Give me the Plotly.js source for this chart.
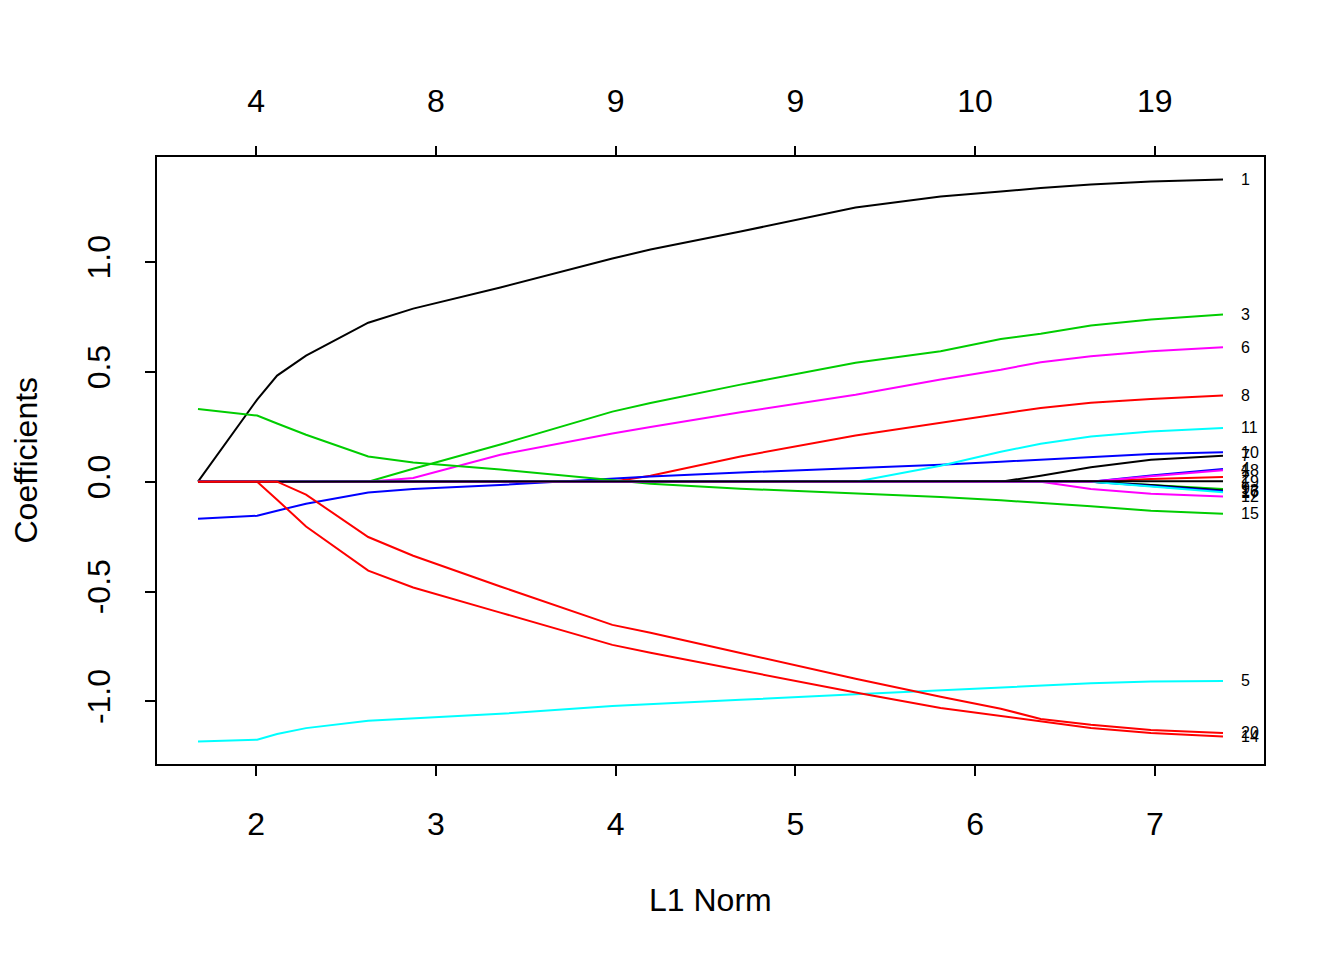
<!DOCTYPE html>
<html>
<head>
<meta charset="utf-8">
<script src="https://cdn.plot.ly/plotly-3.0.1.min.js"></script>
<style>
html,body{margin:0;padding:0;background:#fff;}
#chart{width:1344px;height:960px;}
</style>
</head>
<body>
<div id="chart"></div>
<script>
// L1 norm of the coefficient vector at each step of the path
const l1Norm = [1.677, 2.006, 2.117, 2.278, 2.624, 2.874, 3.359, 3.982, 4.194, 4.695, 5.335, 5.808, 6.143, 6.365, 6.644, 6.978, 7.379];

// coefficient paths, one array per variable (V1..V20)
const v1  = [0, 0.374, 0.483, 0.574, 0.724, 0.788, 0.884, 1.016, 1.057, 1.139, 1.248, 1.298, 1.321, 1.337, 1.353, 1.367, 1.376];
const v2  = [0, 0, 0, 0, 0, 0, 0, 0, 0, 0, 0, 0, 0, 0, 0, 0.012, 0.021];
const v3  = [0, 0, 0, 0, 0, 0.059, 0.169, 0.319, 0.358, 0.442, 0.542, 0.594, 0.650, 0.674, 0.711, 0.738, 0.761];
const v4  = [0, 0, 0, 0, 0, 0, 0, 0, 0, 0, 0, 0, 0, 0, 0, 0.028, 0.058];
const v5  = [-1.183, -1.175, -1.149, -1.122, -1.089, -1.077, -1.057, -1.021, -1.012, -0.993, -0.968, -0.950, -0.937, -0.929, -0.918, -0.910, -0.907];
const v6  = [0, 0, 0, 0, 0, 0.017, 0.123, 0.219, 0.249, 0.316, 0.396, 0.465, 0.510, 0.544, 0.571, 0.594, 0.612];
const v7  = [0, 0, 0, 0, 0, 0, 0, 0, 0, 0, 0, 0, 0, 0.027, 0.066, 0.100, 0.118];
const v8  = [0, 0, 0, 0, 0, 0, 0, 0, 0.027, 0.115, 0.210, 0.267, 0.308, 0.336, 0.359, 0.377, 0.393];
const v9  = [0, 0, 0, 0, 0, 0, 0, 0, 0, 0, 0, 0, 0, 0, 0, -0.015, -0.033];
const v10 = [-0.169, -0.155, -0.132, -0.100, -0.049, -0.033, -0.015, 0.015, 0.024, 0.042, 0.062, 0.077, 0.091, 0.100, 0.112, 0.126, 0.134];
const v11 = [0, 0, 0, 0, 0, 0, 0, 0, 0, 0, 0, 0.073, 0.136, 0.173, 0.206, 0.229, 0.245];
const v12 = [0, 0, 0, 0, 0, 0, 0, 0, 0, 0, 0, 0, 0, 0, -0.033, -0.055, -0.067];
const v13 = [0, 0, 0, 0, 0, 0, 0, 0, 0, 0, 0, 0, 0, 0, 0, -0.015, -0.040];
const v14 = [0, 0, -0.082, -0.204, -0.405, -0.482, -0.596, -0.743, -0.779, -0.859, -0.960, -1.030, -1.066, -1.093, -1.121, -1.144, -1.160];
const v15 = [0.331, 0.301, 0.265, 0.214, 0.115, 0.087, 0.055, 0.008, -0.009, -0.032, -0.052, -0.070, -0.085, -0.096, -0.112, -0.132, -0.146];
const v16 = [0, 0, 0, 0, 0, 0, 0, 0, 0, 0, 0, 0, 0, 0, 0, -0.020, -0.044];
const v17 = [0, 0, 0, 0, 0, 0, 0, 0, 0, 0, 0, 0, 0, 0, 0, -0.022, -0.048];
const v18 = [0, 0, 0, 0, 0, 0, 0, 0, 0, 0, 0, 0, 0, 0, 0, 0.025, 0.052];
const v19 = [0, 0, 0, 0, 0, 0, 0, 0, 0, 0, 0, 0, 0, 0, 0, 0, 0.002];
const v20 = [0, 0, 0, -0.059, -0.252, -0.337, -0.477, -0.652, -0.688, -0.780, -0.897, -0.979, -1.034, -1.080, -1.107, -1.130, -1.144];

const paths = [v1, v2, v3, v4, v5, v6, v7, v8, v9, v10, v11, v12, v13, v14, v15, v16, v17, v18, v19, v20];
const varLabels = ["1","2","3","4","5","6","7","8","9","10","11","12","13","14","15","16","17","18","19","20"];

// axis ticks
const xTicks = [2, 3, 4, 5, 6, 7];
const xTickText = ["2", "3", "4", "5", "6", "7"];
const topTickText = ["4", "8", "9", "9", "10", "19"];   // degrees of freedom
const yTicks = [-1, -0.5, 0, 0.5, 1];
const yTickText = ["-1.0", "-0.5", "0.0", "0.5", "1.0"];

// R default palette cycle used by matplot
const palette = ["#000000", "#FF0000", "#00CD00", "#0000FF", "#00FFFF", "#FF00FF"];

const FONT = "Liberation Sans, Arial, Helvetica, sans-serif";

// R-style axis ranges (4% padding)
const xmin = Math.min(...l1Norm), xmax = Math.max(...l1Norm);
const allv = paths.flat();
const ymin = Math.min(...allv), ymax = Math.max(...allv);
const xr = [xmin - 0.04 * (xmax - xmin), xmax + 0.04 * (xmax - xmin)];
const yr = [ymin - 0.04 * (ymax - ymin), ymax + 0.04 * (ymax - ymin)];

const traces = paths.map((p, i) => ({
  x: l1Norm, y: p, type: "scatter", mode: "lines",
  line: {color: palette[i % 6], width: 2},
  hoverinfo: "skip", showlegend: false, xaxis: "x", yaxis: "y"
}));
// invisible trace to activate the top axis
traces.push({x: xr, y: [0, 0], xaxis: "x2", yaxis: "y", mode: "lines",
  line: {width: 0, color: "rgba(0,0,0,0)"}, hoverinfo: "skip", showlegend: false});

const annotations = paths.map((p, i) => ({
  x: xmax, y: p[p.length - 1], xref: "x", yref: "y",
  text: varLabels[i], showarrow: false, xanchor: "left", yanchor: "middle",
  xshift: 16, font: {family: FONT, size: 16, color: "#000"}
}));
annotations.push({
  text: "L1 Norm", xref: "paper", yref: "paper", x: 0.5, y: 0,
  xanchor: "center", yanchor: "middle", yshift: -136, showarrow: false,
  font: {family: FONT, size: 32, color: "#000"}
});
annotations.push({
  text: "Coefficients", xref: "paper", yref: "paper", x: 0, y: 0.5,
  xanchor: "center", yanchor: "middle", xshift: -132, textangle: -90, showarrow: false,
  font: {family: FONT, size: 32, color: "#000"}
});

const axisCommon = {
  showgrid: false, zeroline: false, showline: true, linecolor: "#000", linewidth: 2,
  ticks: "outside", ticklen: 10, tickwidth: 2, tickcolor: "#000",
  tickfont: {family: FONT, size: 32, color: "#000"}, tickmode: "array"
};

const layout = {
  width: 1344, height: 960,
  paper_bgcolor: "#fff", plot_bgcolor: "#fff",
  margin: {l: 157, r: 80, t: 157, b: 196},
  xaxis: Object.assign({}, axisCommon, {range: xr, tickvals: xTicks, ticktext: xTickText, mirror: true, ticklabelstandoff: 21}),
  xaxis2: Object.assign({}, axisCommon, {range: xr, tickvals: xTicks, ticktext: topTickText, overlaying: "x", side: "top", showline: false, ticklabelstandoff: 21}),
  yaxis: Object.assign({}, axisCommon, {range: yr, tickvals: yTicks, ticktext: yTickText, mirror: true, tickangle: -90, ticklabelstandoff: 22}),
  annotations: annotations,
  font: {family: FONT}
};

Plotly.newPlot("chart", traces, layout, {staticPlot: true, displayModeBar: false});
</script>
</body>
</html>
